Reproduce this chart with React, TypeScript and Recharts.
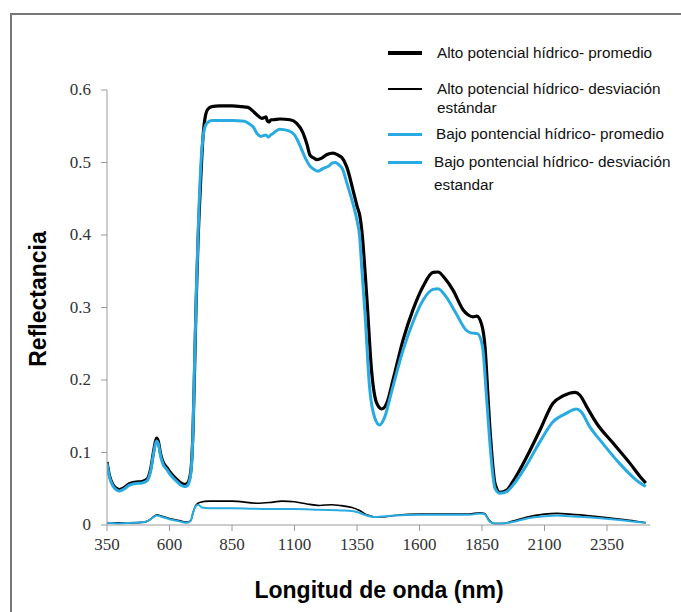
import React from 'react';
import { LineChart, Line, XAxis, YAxis } from 'recharts';

// ---- Data ----
const xTicks = [350, 600, 850, 1100, 1350, 1600, 1850, 2100, 2350];
const yTicks = [0, 0.1, 0.2, 0.3, 0.4, 0.5, 0.6];

const seriesNames = [
  'Alto potencial hídrico- promedio',
  'Alto potencial hídrico- desviación estándar',
  'Bajo pontencial hídrico- promedio',
  'Bajo pontencial hídrico- desviación estandar',
];

const altoPromedioNm = [350, 360, 375, 390, 400, 420, 440, 460, 490, 510, 525, 537, 548, 555, 565, 574, 590, 602, 620, 642, 660, 670, 680, 688, 694, 700, 706, 714, 724, 734, 744, 752, 769, 800, 850, 890, 914, 930, 949, 969, 980, 986, 992, 998, 1006, 1014, 1042, 1082, 1109, 1134, 1150, 1162, 1178, 1189, 1209, 1230, 1254, 1275, 1289, 1309, 1334, 1350, 1362, 1369, 1389, 1409, 1429, 1449, 1469, 1494, 1534, 1574, 1614, 1654, 1674, 1702, 1734, 1774, 1794, 1814, 1829, 1849, 1862, 1874, 1882, 1889, 1902, 1922, 1949, 1974, 2029, 2082, 2134, 2174, 2222, 2242, 2269, 2309, 2374, 2442, 2482, 2505];
const altoPromedioR = [0.087, 0.068, 0.055, 0.050, 0.049, 0.052, 0.057, 0.059, 0.060, 0.063, 0.078, 0.103, 0.120, 0.116, 0.097, 0.087, 0.079, 0.073, 0.066, 0.059, 0.056, 0.057, 0.064, 0.085, 0.13, 0.21, 0.30, 0.39, 0.47, 0.535, 0.565, 0.573, 0.577, 0.578, 0.578, 0.577, 0.576, 0.572, 0.566, 0.561, 0.562, 0.563, 0.557, 0.556, 0.559, 0.559, 0.560, 0.559, 0.554, 0.541, 0.525, 0.510, 0.506, 0.504, 0.506, 0.511, 0.513, 0.510, 0.507, 0.494, 0.462, 0.440, 0.425, 0.407, 0.315, 0.210, 0.168, 0.160, 0.168, 0.200, 0.255, 0.297, 0.329, 0.3485, 0.349, 0.340, 0.324, 0.297, 0.290, 0.287, 0.288, 0.276, 0.246, 0.177, 0.131, 0.099, 0.0575, 0.045, 0.048, 0.060, 0.094, 0.131, 0.168, 0.178, 0.183, 0.179, 0.163, 0.140, 0.113, 0.085, 0.067, 0.058];

const bajoPromedioNm = [350, 360, 375, 390, 400, 420, 440, 460, 490, 510, 525, 537, 548, 555, 565, 574, 590, 602, 620, 642, 660, 670, 680, 688, 694, 700, 708, 716, 726, 736, 745, 752, 769, 800, 850, 900, 920, 935, 950, 966, 975, 986, 996, 1005, 1014, 1040, 1075, 1100, 1126, 1145, 1162, 1180, 1194, 1215, 1237, 1250, 1262, 1280, 1292, 1310, 1337, 1350, 1360, 1370, 1382, 1400, 1420, 1440, 1460, 1487, 1534, 1574, 1614, 1654, 1674, 1706, 1746, 1786, 1806, 1832, 1852, 1868, 1880, 1890, 1902, 1922, 1949, 1974, 2029, 2082, 2134, 2187, 2227, 2247, 2280, 2332, 2400, 2467, 2505];
const bajoPromedioR = [0.085, 0.066, 0.053, 0.048, 0.047, 0.050, 0.055, 0.057, 0.058, 0.061, 0.075, 0.100, 0.116, 0.112, 0.094, 0.084, 0.076, 0.070, 0.063, 0.056, 0.053, 0.054, 0.061, 0.082, 0.13, 0.22, 0.33, 0.42, 0.50, 0.540, 0.552, 0.555, 0.558, 0.558, 0.558, 0.557, 0.553, 0.549, 0.540, 0.536, 0.537, 0.538, 0.535, 0.538, 0.540, 0.546, 0.544, 0.538, 0.520, 0.505, 0.495, 0.490, 0.488, 0.492, 0.495, 0.499, 0.500, 0.496, 0.491, 0.471, 0.439, 0.420, 0.400, 0.350, 0.292, 0.191, 0.149, 0.138, 0.148, 0.182, 0.241, 0.280, 0.310, 0.325, 0.326, 0.315, 0.292, 0.269, 0.265, 0.264, 0.246, 0.177, 0.120, 0.080, 0.0506, 0.0437, 0.046, 0.055, 0.083, 0.115, 0.1425, 0.154, 0.160, 0.156, 0.136, 0.113, 0.085, 0.062, 0.053];

const altoDesvNm = [350, 400, 450, 500, 520, 550, 570, 600, 640, 670, 685, 695, 705, 720, 760, 850, 950, 1000, 1050, 1100, 1150, 1200, 1250, 1280, 1330, 1360, 1390, 1420, 1450, 1500, 1600, 1700, 1800, 1840, 1860, 1880, 1900, 1930, 1970, 2030, 2100, 2150, 2200, 2300, 2380, 2450, 2505];
const altoDesvR = [0.003, 0.003, 0.003, 0.004, 0.007, 0.014, 0.012, 0.009, 0.006, 0.004, 0.006, 0.018, 0.027, 0.031, 0.033, 0.033, 0.030, 0.031, 0.033, 0.032, 0.029, 0.027, 0.028, 0.027, 0.024, 0.020, 0.014, 0.011, 0.011, 0.013, 0.015, 0.015, 0.015, 0.017, 0.016, 0.006, 0.002, 0.002, 0.005, 0.011, 0.015, 0.016, 0.015, 0.012, 0.009, 0.006, 0.003];

const bajoDesvNm = [350, 400, 450, 500, 520, 550, 570, 600, 640, 670, 685, 695, 705, 715, 730, 760, 850, 1000, 1100, 1200, 1300, 1350, 1380, 1420, 1500, 1600, 1700, 1800, 1840, 1860, 1880, 1900, 1930, 1970, 2030, 2100, 2150, 2200, 2300, 2400, 2505];
const bajoDesvR = [0.003, 0.002, 0.003, 0.004, 0.007, 0.013, 0.011, 0.008, 0.005, 0.003, 0.006, 0.018, 0.026, 0.028, 0.024, 0.023, 0.023, 0.022, 0.022, 0.021, 0.020, 0.018, 0.014, 0.011, 0.013, 0.014, 0.014, 0.014, 0.016, 0.015, 0.005, 0.002, 0.002, 0.004, 0.009, 0.012, 0.013, 0.012, 0.010, 0.007, 0.003];

const toPoints = (nm: number[], r: number[]) => nm.map((x, i) => ({ nm: x, r: r[i] }));

const altoPromedio = toPoints(altoPromedioNm, altoPromedioR);
const bajoPromedio = toPoints(bajoPromedioNm, bajoPromedioR);
const altoDesv = toPoints(altoDesvNm, altoDesvR);
const bajoDesv = toPoints(bajoDesvNm, bajoDesvR);

const BLACK = '#000000';
const BLUE = '#29abe2';
const AXIS = '#9a9a9a';
const SANS = 'Liberation Sans, Arial, sans-serif';
const SERIF = 'Liberation Serif, Times New Roman, serif';

const legendItems = [
  { lines: [seriesNames[0]], color: BLACK, width: 4, top: 43, gap: 0, left: 51 },
  { lines: ['Alto potencial hídrico- desviación', 'estándar'], color: BLACK, width: 2, top: 79, gap: 0, left: 51 },
  { lines: [seriesNames[2]], color: BLUE, width: 3, top: 124, gap: 0, left: 50 },
  { lines: ['Bajo pontencial hídrico- desviación', 'estandar'], color: BLUE, width: 3, top: 152, gap: 4, left: 48 },
];

const XTick = (props: any) => {
  const { x, y, payload } = props;
  return (
    <text x={x} y={y} dy={15} textAnchor="middle" fontFamily={SERIF} fontSize={17} fill="#333">
      {payload.value}
    </text>
  );
};

const YTick = (props: any) => {
  const { x, y, payload } = props;
  const v = payload.value as number;
  return (
    <text x={x} y={y} dy={5} textAnchor="end" fontFamily={SERIF} fontSize={17} fill="#333">
      {v === 0 ? '0' : v.toFixed(1)}
    </text>
  );
};

export default function App() {
  return (
    <div style={{ position: 'absolute', left: 0, top: 0, width: 681, height: 612, background: '#fff', overflow: 'hidden' }}>
      <div style={{ position: 'absolute', left: 10, top: 13, width: 671, height: 620, borderTop: '2px solid #777', borderLeft: '2px solid #777' }} />
      <LineChart
        width={681}
        height={612}
        margin={{ top: 90, right: 31, bottom: 57, left: 47 }}
        style={{ position: 'absolute', left: 0, top: 0 }}
      >
        <XAxis
          dataKey="nm"
          type="number"
          domain={[350, 2522]}
          ticks={xTicks}
          allowDataOverflow
          height={30}
          stroke={AXIS}
          tickSize={6}
          tickMargin={4}
          tick={<XTick />}
          label={{
            content: () => (
              <text x={379} y={598} textAnchor="middle" fontFamily={SANS} fontWeight="bold" fontSize={23} fill="#000">
                Longitud de onda (nm)
              </text>
            ),
          }}
        />
        <YAxis
          dataKey="r"
          type="number"
          domain={[0, 0.6]}
          ticks={yTicks}
          width={60}
          stroke={AXIS}
          tickSize={6}
          tickMargin={10}
          tick={<YTick />}
          label={{
            content: () => (
              <text x={46} y={299} transform="rotate(-90 46 299)" textAnchor="middle" fontFamily={SANS} fontWeight="bold" fontSize={23} fill="#000">
                Reflectancia
              </text>
            ),
          }}
        />
        <Line data={altoDesv} dataKey="r" name={seriesNames[1]} type="monotone" stroke={BLACK} strokeWidth={1.6} dot={false} isAnimationActive={false} />
        <Line data={bajoDesv} dataKey="r" name={seriesNames[3]} type="monotone" stroke={BLUE} strokeWidth={2} dot={false} isAnimationActive={false} />
        <Line data={altoPromedio} dataKey="r" name={seriesNames[0]} type="monotone" stroke={BLACK} strokeWidth={3.2} dot={false} isAnimationActive={false} />
        <Line data={bajoPromedio} dataKey="r" name={seriesNames[2]} type="monotone" stroke={BLUE} strokeWidth={3} dot={false} isAnimationActive={false} />
      </LineChart>
      {legendItems.map((it, i) => (
        <div key={i} style={{ position: 'absolute', left: 386, top: it.top, fontFamily: SANS, fontSize: 15.3, color: '#111', lineHeight: '19px' }}>
          <div style={{ position: 'absolute', left: 2, top: 10 - it.width / 2, width: 34, height: it.width, background: it.color }} />
          <div style={{ position: 'absolute', left: it.left, top: 0, whiteSpace: 'nowrap' }}>
            {it.lines.map((l, j) => (
              <div key={j} style={j === 1 ? { marginTop: it.gap } : undefined}>{l}</div>
            ))}
          </div>
        </div>
      ))}
    </div>
  );
}
